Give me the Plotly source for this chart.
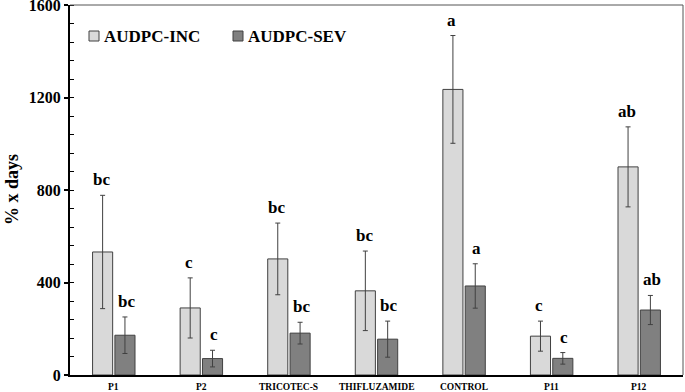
import plotly.graph_objects as go

categories = ["P1", "P2", "TRICOTEC-S", "THIFLUZAMIDE", "CONTROL", "P11", "P12"]
inc_values = [532, 290, 502, 364, 1235, 168, 900]
inc_errors = [245, 130, 155, 172, 233, 65, 173]
sev_values = [172, 71, 181, 155, 385, 72, 281]
sev_errors = [79, 36, 47, 78, 96, 25, 63]
inc_letters = ["bc", "c", "bc", "bc", "a", "c", "ab"]
sev_letters = ["bc", "c", "bc", "bc", "a", "c", "ab"]
series_names = ["AUDPC-INC", "AUDPC-SEV"]
series_colors = ["#d9d9d9", "#808080"]
y_ticks = [0, 400, 800, 1200, 1600]

SERIF = "Liberation Serif, Times New Roman, serif"
W, H = 685, 392
ML, MR, MT, MB = 70, 2, 5, 17
PW = W - ML - MR
PH = H - MT - MB

fig = go.Figure()
for name, vals, errs, col in [(series_names[0], inc_values, inc_errors, series_colors[0]),
                              (series_names[1], sev_values, sev_errors, series_colors[1])]:
    fig.add_trace(go.Bar(
        name=name, x=categories, y=vals,
        marker=dict(color=col, line=dict(color="#404040", width=1)),
        error_y=dict(type="data", array=errs, visible=True, color="#404040", thickness=1, width=2.5),
        showlegend=False,
    ))

annotations = []
for i, c in enumerate(categories):
    annotations.append(dict(x=c, y=inc_values[i] + inc_errors[i], xref="x", yref="y",
                            text="<b>" + inc_letters[i] + "</b>", showarrow=False, xshift=-12.3,
                            yanchor="bottom", yshift=4,
                            font=dict(family=SERIF, size=17, color="black")))
    annotations.append(dict(x=c, y=sev_values[i] + sev_errors[i], xref="x", yref="y",
                            text="<b>" + sev_letters[i] + "</b>", showarrow=False, xshift=12.3,
                            yanchor="bottom", yshift=4,
                            font=dict(family=SERIF, size=17, color="black")))
    annotations.append(dict(x=c, y=0, xref="x", yref="paper", text="<b>" + c + "</b>",
                            showarrow=False, yanchor="top", yshift=-5,
                            font=dict(family=SERIF, size=9.5, color="black")))

annotations.append(dict(x=0, y=0.5, xref="paper", yref="paper", xshift=-58, textangle=-90,
                        text="<b>% x days</b>", showarrow=False, xanchor="center", yanchor="middle",
                        font=dict(family=SERIF, size=18, color="black")))

shapes = [
    dict(type="line", xref="paper", yref="paper", x0=0, x1=1, y0=1, y1=1, line=dict(color="#555555", width=1)),
    dict(type="line", xref="paper", yref="paper", x0=1, x1=1, y0=0, y1=1, line=dict(color="#555555", width=1)),
]
leg_x = [89, 233]
for lx, name, col in zip(leg_x, series_names, series_colors):
    x0 = (lx - ML) / PW
    x1 = (lx + 10 - ML) / PW
    y0 = 1 - (41 - MT) / PH
    y1 = 1 - (31 - MT) / PH
    shapes.append(dict(type="rect", xref="paper", yref="paper", x0=x0, x1=x1, y0=y0, y1=y1,
                       fillcolor=col, line=dict(color="#404040", width=1)))
    annotations.append(dict(x=(lx + 13 - ML) / PW, y=1 - (36 - MT) / PH, xref="paper", yref="paper",
                            text="<b>" + name + "</b>", showarrow=False, xanchor="left", yanchor="middle",
                            font=dict(family=SERIF, size=17, color="black")))

fig.update_layout(
    width=W, height=H,
    margin=dict(l=ML, r=MR, t=MT, b=MB),
    paper_bgcolor="white", plot_bgcolor="white",
    barmode="group", bargap=0.49, bargroupgap=0.1,
    font=dict(family=SERIF, color="black"),
    showlegend=False,
    annotations=annotations,
    shapes=shapes,
)
fig.update_xaxes(
    showline=True, linecolor="black", linewidth=2, ticks="", showgrid=False,
    showticklabels=False, automargin=False,
)
fig.update_yaxes(
    range=[0, 1600.01], tickvals=y_ticks, ticktext=["<b>%d</b>" % v for v in y_ticks],
    showline=True, linecolor="black", linewidth=2, showgrid=False, zeroline=False,
    ticks="outside", ticklen=4, tickwidth=1.5, tickcolor="black",
    minor=dict(dtick=80, ticks="inside", ticklen=4, tickcolor="black", tickwidth=1),
    tickfont=dict(family=SERIF, size=16, color="black"), automargin=False,
    ticklabeloverflow="allow",
)

fig.write_html("out.html", config={"displayModeBar": False},
               post_script="document.body.style.margin='0';document.body.style.overflow='hidden';")
